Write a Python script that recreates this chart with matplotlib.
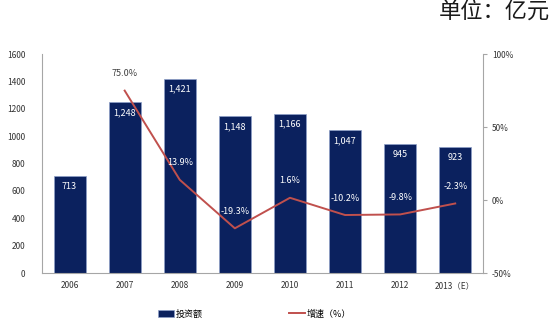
import matplotlib
matplotlib.use("Agg")
import matplotlib.pyplot as plt

plt.rcParams['font.family'] = ['Noto Sans CJK SC', 'DejaVu Sans']

YEARS = ["2006", "2007", "2008", "2009", "2010", "2011", "2012", "2013（E）"]
INVEST = [713, 1248, 1421, 1148, 1166, 1047, 945, 923]
GROWTH = [None, 75.0, 13.9, -19.3, 1.6, -10.2, -9.8, -2.3]

BAR_COLOR = "#0B215E"
LINE_COLOR = "#C0504D"
AXIS_COLOR = "#A6A6A6"


def main():
    fig = plt.figure(figsize=(5.53, 3.24), dpi=100)
    ax = fig.add_axes([0.076, 0.157, 0.797, 0.676])
    x = list(range(len(YEARS)))

    bars = ax.bar(x, INVEST, width=0.58, color=BAR_COLOR, edgecolor="#8EA0C8",
                  linewidth=0.5, label="投资额", zorder=2)
    for xi, v in zip(x, INVEST):
        ax.text(xi, v - 45, f"{v:,}", ha="center", va="top", color="white",
                fontsize=6.5, zorder=5)

    ax.set_ylim(0, 1600)
    ax.set_yticks(range(0, 1601, 200))
    ax.set_xlim(-0.5, len(YEARS) - 0.5)
    ax.set_xticks(x)
    ax.set_xticklabels(YEARS)
    ax.tick_params(axis="both", labelsize=6, length=0, colors="#333333", pad=6)
    ax.tick_params(axis="y", pad=12)
    for s in ["top", "right"]:
        ax.spines[s].set_visible(False)
    for s in ["left", "bottom"]:
        ax.spines[s].set_color(AXIS_COLOR)
        ax.spines[s].set_linewidth(0.8)

    ax2 = ax.twinx()
    gx = [xi for xi, g in zip(x, GROWTH) if g is not None]
    gy = [g for g in GROWTH if g is not None]
    ln, = ax2.plot(gx, gy, color=LINE_COLOR, linewidth=1.4, label="增速（%）", zorder=3)
    ax2.set_ylim(-50, 100)
    ax2.set_yticks([-50, 0, 50, 100])
    ax2.set_yticklabels(["-50%", "0%", "50%", "100%"])
    ax2.tick_params(axis="y", labelsize=6, length=3, direction="out",
                    color=AXIS_COLOR, colors="#333333")
    ax2.tick_params(axis="y", color=AXIS_COLOR)
    for s in ["top", "left", "bottom"]:
        ax2.spines[s].set_visible(False)
    ax2.spines["right"].set_color(AXIS_COLOR)
    ax2.spines["right"].set_linewidth(0.8)

    for xi, g in zip(gx, gy):
        col = "#404040" if g > 60 else "white"
        ax2.annotate(f"{g:.1f}%", (xi, g), xytext=(0, 9), textcoords="offset points",
                     ha="center", va="bottom", fontsize=6.5, color=col, zorder=6)

    fig.legend([bars, ln], ["投资额", "增速（%）"], loc="center",
               bbox_to_anchor=(0.46, 0.031), ncol=2, frameon=False, fontsize=6.5,
               columnspacing=9.5, handlelength=1.8, handletextpad=0.2)

    fig.text(0.995, 0.962, "单位：亿元", ha="right", va="center", fontsize=16,
             color="#1a1a1a")

    fig.savefig("out.png", dpi=100)


if __name__ == "__main__":
    main()
